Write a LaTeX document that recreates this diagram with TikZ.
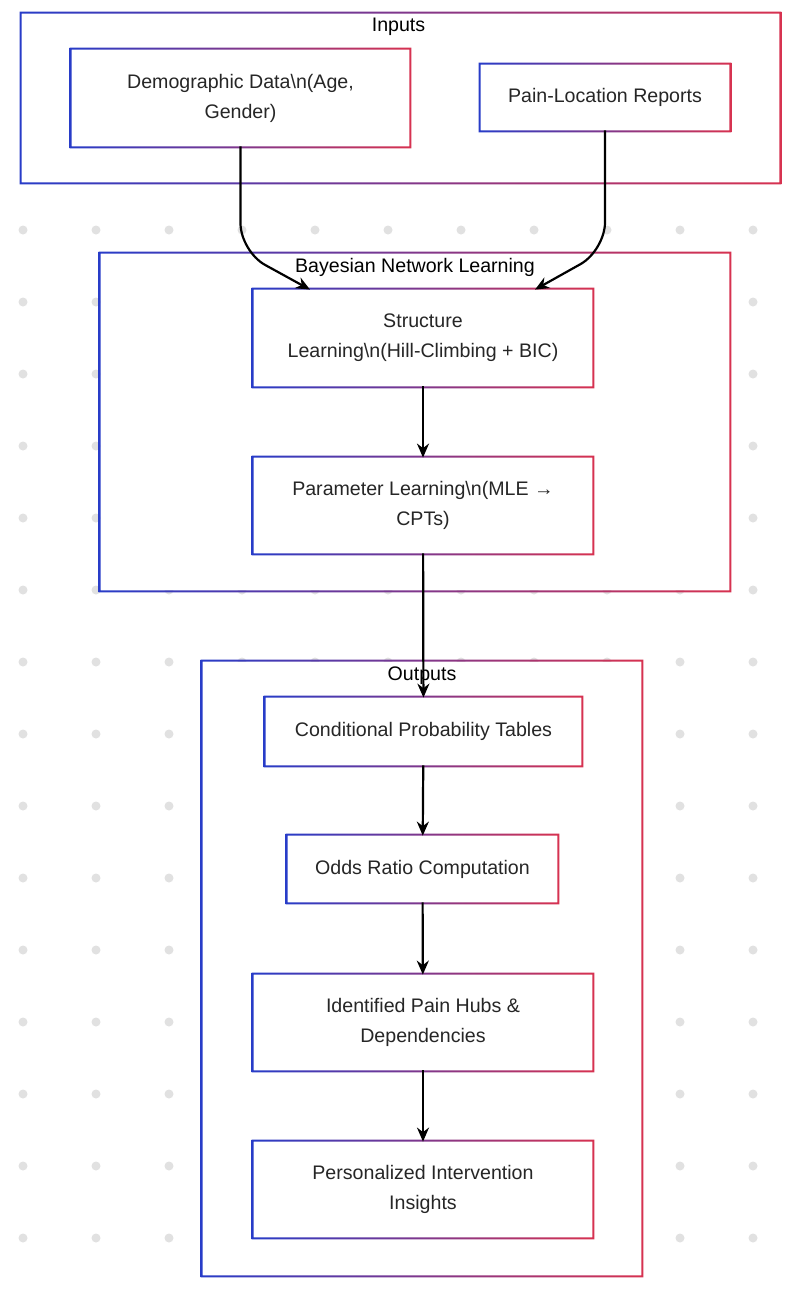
\documentclass[tikz,border=0pt]{standalone}
\usepackage{fontspec}
\setmainfont{Liberation Sans}
\usetikzlibrary{calc,arrows.meta}
\definecolor{bblue}{RGB}{40,60,200}
\definecolor{rred}{RGB}{215,50,80}
\definecolor{dotgray}{RGB}{225,225,225}
\tikzset{
  box/.style={align=center,inner sep=0pt,font=\fontsize{9.8}{15}\selectfont,text=black!85},
  title/.style={font=\fontsize{9.8}{11}\selectfont,inner sep=1pt},
  arr/.style={-{Stealth[length=7pt,width=6pt]},line width=1.1pt,black}
}
\newcommand\gframe[1]{%
  \shade[even odd rule,left color=bblue,right color=rred]
    ($(#1.south west)+(-1pt,-1pt)$) rectangle ($(#1.north east)+(1pt,1pt)$)
    (#1.south west) rectangle (#1.north east);}

\begin{document}
\begin{tikzpicture}[x=0.5pt,y=-0.5pt]
    \useasboundingbox[fill=white] (0,0) rectangle (797,1291);

    % dotted background
    \foreach \i in {0,...,10}
      \foreach \j in {0,...,14}
        \fill[dotgray] (23+73*\i,230+72*\j) circle [radius=4.5];

    % groups
    \node[minimum width=378.5pt,minimum height=84pt,fill=white] (inputs) at (400.5,98) {};
    \node[minimum width=314pt,minimum height=168pt,fill=white] (bnl) at (415,422) {};
    \node[minimum width=219pt,minimum height=306.5pt,fill=white] (outputs) at (422,968.5) {};

    % inputs
    \node[box,minimum width=168.5pt,minimum height=48pt] (demo) at (240.5,98) {Demographic Data\textbackslash n(Age,\\Gender)};
    \node[box,minimum width=124pt,minimum height=32.5pt] (pain) at (605,97.5) {Pain-Location Reports};

    % learning
    \node[box,minimum width=169pt,minimum height=48pt] (struct) at (423,338) {Structure\\Learning\textbackslash n(Hill-Climbing + BIC)};
    \node[box,minimum width=169pt,minimum height=47.5pt] (param) at (423,505.5) {Parameter Learning\textbackslash n(MLE →\\CPTs)};

    % outputs
    \node[box,minimum width=157.5pt,minimum height=33.5pt] (cpt) at (423.5,731.5) {Conditional Probability Tables};
    \node[box,minimum width=134.5pt,minimum height=33pt] (odds) at (422.5,869) {Odds Ratio Computation};
    \node[box,minimum width=169pt,minimum height=47.5pt] (hubs) at (423,1022.5) {Identified Pain Hubs \&\\Dependencies};
    \node[box,minimum width=169pt,minimum height=47.5pt] (insight) at (423,1189.5) {Personalized Intervention\\Insights};

    \foreach \n in {inputs,bnl,outputs,demo,pain,struct,param,cpt,odds,hubs,insight}
      \gframe{\n};

    % connectors
    \draw[arr,rounded corners=14pt] (demo.south) -- ($(demo.south)+(0,105)$) -- ($(struct.north)+(-113,0)$);
    \draw[arr,rounded corners=14pt] (pain.south) -- ($(pain.south)+(0,120)$) -- ($(struct.north)+(112,0)$);
    \draw[arr] (struct) -- (param);
    \draw[arr] (param) -- (cpt);
    \draw[arr] (cpt) -- (odds);
    \draw[arr] (odds) -- (hubs);
    \draw[arr] (hubs) -- (insight);

    % group titles
    \node[title] (inputsT) at ($(inputs.north)+(-2,13)$) {Inputs};
    \node[title] (bnlT) at ($(bnl.north)+(0,14)$) {Bayesian Network Learning};
    \node[title] (outputsT) at ($(outputs.north)+(0,14)$) {Outputs};
\end{tikzpicture}
\end{document}
